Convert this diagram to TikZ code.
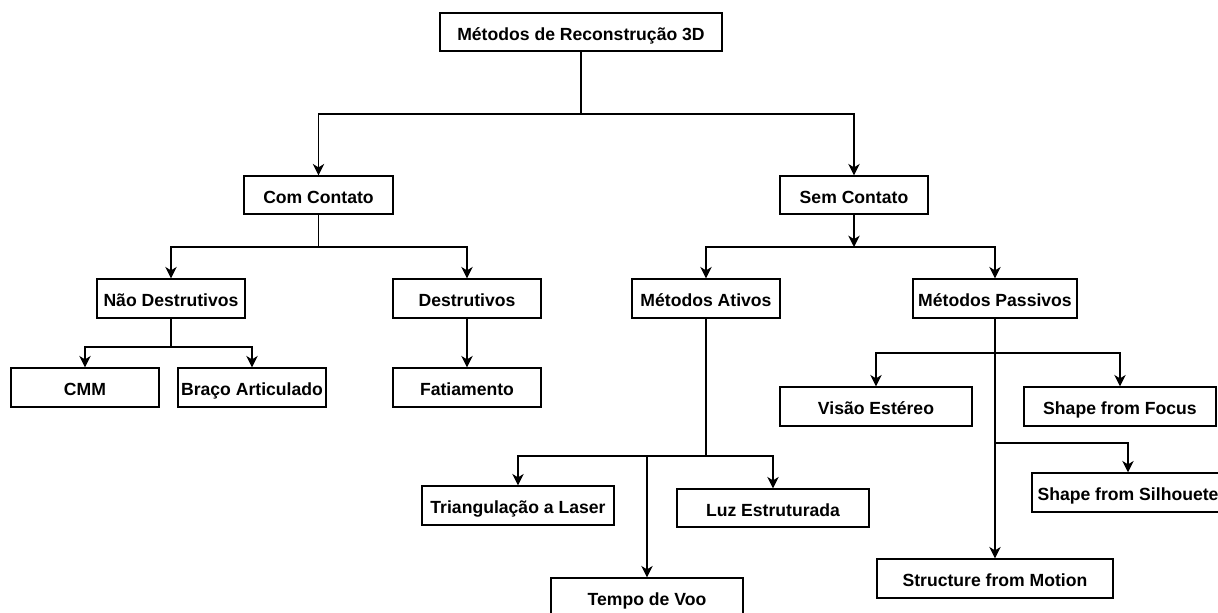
\documentclass[tikz,border=0pt]{standalone}
\usepackage{fontspec}
\setmainfont{Liberation Sans}
\usetikzlibrary{arrows.meta}

\tikzset{
  box/.style={draw=black, line width=1.1pt, fill=white, inner sep=0pt,
    font=\fontsize{13.2}{15}\selectfont\bfseries, align=center,
    text height=12.5pt, text depth=0.4pt,
    minimum height=39*0.75pt},
  w/.style={minimum width=#1*0.75pt},
  link/.style={draw=black, line width=1.1pt},
  arr/.style={link, -{Stealth[length=8.5pt,width=8.5pt,inset=2.6pt]}},
}

\begin{document}
\begin{tikzpicture}[x=0.75pt, y=-0.75pt]
  \useasboundingbox (0,0) rectangle (1218,612);
  \clip (0,0) rectangle (1218,612);

  % nodes of the classification tree
  \node[box, w=282, minimum height=38*0.75pt] (root) at (581,32) {Métodos de Reconstrução 3D};

  \node[box, w=149, minimum height=38*0.75pt] (com) at (318.5,195) {Com Contato};
  \node[box, w=148, minimum height=38*0.75pt] (sem) at (854,195) {Sem Contato};

  \node[box, w=148] (nd)   at (171,298.5) {Não Destrutivos};
  \node[box, w=148] (dest) at (467,298.5) {Destrutivos};
  \node[box, w=148] (ativ) at (706,298.5) {Métodos Ativos};
  \node[box, w=164] (pass) at (995,298.5) {Métodos Passivos};

  \node[box, w=148] (cmm)   at (85,387.5)  {CMM};
  \node[box, w=148] (braco) at (252,387.5) {Braço Articulado};
  \node[box, w=148] (fat)   at (467,387.5) {Fatiamento};

  \node[box, w=192] (visao) at (876,406.5)  {Visão Estéreo};
  \node[box, w=192] (focus) at (1120,406.5) {Shape from Focus};
  \node[box, w=192] (silh)  at (1128,492.5) {Shape from Silhouete};
  \node[box, w=236] (sfm)   at (995,578.5)  {Structure from Motion};

  \node[box, w=192] (tri)   at (518,505.5) {Triangulação a Laser};
  \node[box, w=192, minimum height=38*0.75pt] (luz) at (773,508) {Luz Estruturada};
  \node[box, w=192] (tempo) at (647,597.5) {Tempo de Voo};

  % branching points
  \coordinate (j0) at (581,114);
  \coordinate (j1) at (318.5,247);
  \coordinate (j2) at (854,247);
  \coordinate (j3) at (171,347);
  \coordinate (j4) at (706,456);
  \coordinate (j5) at (995,353);
  \coordinate (j6) at (995,443);

  % root
  \draw[link] (root.south) -- (j0);
  \draw[arr] (j0) -| (com.north);
  \draw[arr] (j0) -| (sem.north);

  % contact methods
  \draw[link] (com.south) -- (j1);
  \draw[arr] (j1) -| (nd.north);
  \draw[arr] (j1) -| (dest.north);
  \draw[link] (nd.south) -- (j3);
  \draw[arr] (j3) -| (cmm.north);
  \draw[arr] (j3) -| (braco.north);
  \draw[arr] (dest.south) -- (fat.north);

  % non-contact methods
  \draw[arr] (sem.south) -- (j2);
  \draw[link] (ativ.north |- j2) -- (pass.north |- j2);
  \draw[arr] (j2) -| (ativ.north);
  \draw[arr] (j2) -| (pass.north);

  % active methods
  \draw[link] (ativ.south) -- (j4);
  \draw[arr] (j4) -| (tri.north);
  \draw[arr] (j4) -| (luz.north);
  \draw[arr] (tempo.north |- j4) -- (tempo.north);

  % passive methods
  \draw[arr] (pass.south) -- (sfm.north);
  \draw[arr] (j5) -| (visao.north);
  \draw[arr] (j5) -| (focus.north);
  \draw[arr] (j6) -| (silh.north);
\end{tikzpicture}
\end{document}
